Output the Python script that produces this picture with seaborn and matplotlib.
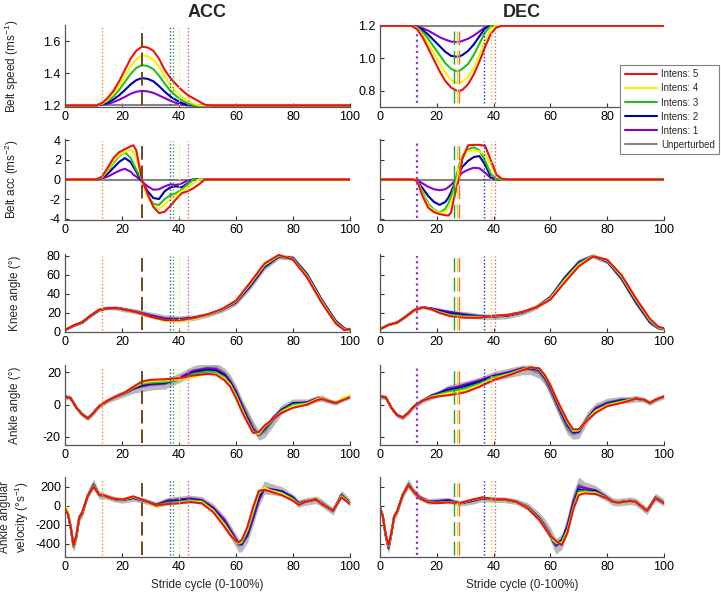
import matplotlib
matplotlib.use("Agg")
import matplotlib.pyplot as plt
from matplotlib.lines import Line2D
import seaborn as sns
import pandas as pd
import numpy as np

# ---------------- data ----------------
INTENS_LABELS = ["Intens: 1", "Intens: 2", "Intens: 3", "Intens: 4", "Intens: 5"]
HUE_ORDER = ["Unperturbed"] + INTENS_LABELS
PALETTE = {"Unperturbed": "#858585", "Intens: 1": "#8a00d0", "Intens: 2": "#0000b0",
           "Intens: 3": "#1fc21f", "Intens: 4": "#f4f400", "Intens: 5": "#ee1111"}

base_x = [0, 100]
speed_base = [1.2, 1.2]
acc_base = [0, 0]

# belt speed, ACC
speed_acc_x = [0, 11, 13, 15, 17, 19, 21, 23, 25, 27, 29, 31, 33, 35, 37, 39, 41, 43, 45, 47, 49, 51, 100]
speed_acc_i5 = [1.2, 1.2, 1.215, 1.247, 1.29, 1.35, 1.42, 1.49, 1.54, 1.565, 1.56, 1.54, 1.49, 1.42, 1.37, 1.33, 1.295, 1.265, 1.245, 1.225, 1.205, 1.2, 1.2]
speed_acc_i4 = [1.2, 1.2, 1.212, 1.237, 1.272, 1.322, 1.382, 1.44, 1.487, 1.51, 1.505, 1.485, 1.44, 1.38, 1.325, 1.285, 1.255, 1.23, 1.212, 1.2, 1.2, 1.2, 1.2]
speed_acc_i3 = [1.2, 1.2, 1.21, 1.228, 1.256, 1.296, 1.345, 1.395, 1.433, 1.45, 1.445, 1.425, 1.385, 1.335, 1.29, 1.258, 1.232, 1.213, 1.202, 1.2, 1.2, 1.2, 1.2]
speed_acc_i2 = [1.2, 1.2, 1.206, 1.218, 1.237, 1.263, 1.295, 1.33, 1.357, 1.37, 1.365, 1.35, 1.32, 1.285, 1.255, 1.233, 1.215, 1.203, 1.2, 1.2, 1.2, 1.2, 1.2]
speed_acc_i1 = [1.2, 1.2, 1.203, 1.21, 1.22, 1.235, 1.253, 1.272, 1.285, 1.29, 1.287, 1.278, 1.262, 1.245, 1.229, 1.215, 1.205, 1.2, 1.2, 1.2, 1.2, 1.2, 1.2]

# belt speed, DEC
speed_dec_x = [0, 11, 13, 15, 17, 19, 21, 23, 25, 27, 28, 29, 31, 33, 35, 37, 39, 41, 43, 100]
speed_dec_i5 = [1.2, 1.2, 1.18, 1.13, 1.06, 0.99, 0.92, 0.86, 0.82, 0.80, 0.80, 0.805, 0.84, 0.9, 0.98, 1.07, 1.15, 1.19, 1.2, 1.2]
speed_dec_i4 = [1.2, 1.2, 1.185, 1.145, 1.09, 1.03, 0.97, 0.91, 0.865, 0.85, 0.85, 0.855, 0.885, 0.94, 1.02, 1.11, 1.18, 1.2, 1.2, 1.2]
speed_dec_i3 = [1.2, 1.2, 1.19, 1.16, 1.12, 1.07, 1.02, 0.97, 0.935, 0.92, 0.925, 0.935, 0.965, 1.02, 1.09, 1.16, 1.2, 1.2, 1.2, 1.2]
speed_dec_i2 = [1.2, 1.2, 1.192, 1.175, 1.145, 1.11, 1.075, 1.04, 1.015, 1.01, 1.012, 1.02, 1.045, 1.085, 1.135, 1.185, 1.2, 1.2, 1.2, 1.2]
speed_dec_i1 = [1.2, 1.2, 1.196, 1.185, 1.17, 1.15, 1.13, 1.115, 1.103, 1.1, 1.102, 1.107, 1.12, 1.14, 1.165, 1.19, 1.2, 1.2, 1.2, 1.2]

# belt acceleration, ACC
bacc_acc_x = [0, 11, 13, 15, 17, 19, 21, 23, 24, 25, 27, 29, 31, 33, 35, 37, 39, 41, 43, 45, 47, 49, 100]
bacc_acc_i5 = [0, 0, 0.3, 1.2, 2.2, 2.8, 3.1, 3.4, 3.5, 3.0, 0, -1.5, -2.8, -3.45, -3.3, -2.7, -2.0, -1.4, -1.2, -0.9, -0.5, 0, 0]
bacc_acc_i4 = [0, 0, 0.25, 1.0, 1.9, 2.5, 2.85, 3.0, 2.8, 2.2, 0, -1.8, -2.7, -3.0, -2.6, -2.0, -1.6, -1.2, -0.8, -0.4, 0, 0, 0]
bacc_acc_i3 = [0, 0, 0.2, 0.9, 1.7, 2.4, 2.8, 2.2, 1.6, 1.0, 0, -1.7, -2.5, -2.6, -2.0, -1.6, -1.4, -1.0, -0.5, 0, 0, 0, 0]
bacc_acc_i2 = [0, 0, 0.15, 0.6, 1.2, 1.8, 2.2, 1.8, 1.3, 0.8, -0.2, -1.2, -1.9, -2.0, -1.2, -0.8, -0.7, -0.8, -0.4, 0, 0, 0, 0]
bacc_acc_i1 = [0, 0, 0.1, 0.3, 0.6, 0.9, 1.1, 0.8, 0.5, 0.3, -0.2, -0.7, -1.05, -1.0, -0.7, -0.5, -0.55, -0.4, -0.1, 0, 0, 0, 0]

# belt acceleration, DEC
bacc_dec_x = [0, 11, 13, 15, 17, 19, 21, 23, 24, 25, 26, 27, 28, 29, 31, 33, 35, 37, 39, 41, 43, 45, 100]
bacc_dec_i5 = [0, 0, -0.1, -1.7, -2.9, -3.35, -3.55, -3.65, -3.7, -3.4, -2.0, -0.8, 0.3, 2.1, 3.5, 3.55, 3.55, 3.45, 2.0, 0.5, 0.05, 0, 0]
bacc_dec_i4 = [0, 0, -0.1, -1.5, -2.7, -3.2, -3.45, -3.3, -2.9, -2.3, -1.5, -0.2, 1.2, 2.3, 2.9, 3.0, 2.9, 2.5, 1.5, 0.4, 0, 0, 0]
bacc_dec_i3 = [0, 0, -0.1, -1.3, -2.5, -3.1, -3.4, -3.0, -2.5, -1.8, -0.8, 0.5, 1.6, 2.4, 3.1, 3.3, 3.0, 1.9, 0.6, 0, 0, 0, 0]
bacc_dec_i2 = [0, 0, -0.1, -0.9, -1.7, -2.3, -2.6, -2.3, -1.9, -1.3, -0.6, 0.1, 0.8, 1.3, 1.9, 2.3, 2.4, 1.5, 0.3, 0, 0, 0, 0]
bacc_dec_i1 = [0, 0, -0.05, -0.4, -0.75, -1.0, -1.1, -1.0, -0.8, -0.55, -0.25, 0.1, 0.45, 0.7, 1.0, 1.2, 1.15, 0.7, 0.15, 0, 0, 0, 0]

# knee angle
knee_x = [0, 3, 6, 9, 12, 15, 18, 21, 25, 30, 35, 40, 45, 50, 55, 60, 65, 70, 75, 80, 85, 90, 95, 98, 100]
knee_band = [1, 1, 1.5, 1.5, 1.5, 1.5, 2, 2.5, 2.5, 3, 3, 3, 3, 2.5, 2.5, 3, 3.5, 3, 2.5, 2.5, 3, 3, 2.5, 1.5, 1]
knee_acc_unp = [2, 6.5, 10, 17, 23, 25, 25, 23.5, 21.5, 18, 15, 14, 15, 18, 23, 31, 48, 68, 79, 78, 60, 33, 10, 3, 3]
knee_acc_i5 = [2, 7, 10.5, 17.5, 23.5, 25.3, 25.3, 23.5, 21, 16, 12.5, 12.3, 14.5, 18.5, 24, 33, 52, 72, 81, 76, 57, 31, 9, 2, 3.5]
knee_acc_i4 = [2, 7, 10.5, 17.5, 23.5, 25.3, 25.3, 23.5, 21, 15.5, 12, 11.5, 13.5, 18, 23.5, 32.5, 51, 71, 80.5, 76.5, 58, 32, 9.5, 2.5, 3]
knee_acc_i3 = [2, 6.8, 10.2, 17.2, 23.3, 25.2, 25.2, 23.3, 20.8, 16, 12.5, 12.5, 14.5, 18.2, 23.5, 32, 50, 70, 80, 77, 59, 33, 10.5, 3, 2.5]
knee_acc_i2 = [2, 6.6, 10, 17, 23, 25, 25.2, 23.5, 21, 16.5, 13, 13, 14.8, 18.2, 23.2, 31.5, 49, 69, 79.5, 77.5, 60, 34, 11, 3.5, 2]
knee_acc_i1 = [2, 6.5, 10, 17, 23, 25, 25.5, 24, 21.5, 17.5, 14, 13.5, 15, 18, 23, 31, 48, 68, 79, 78, 60.5, 34.5, 12, 4, 2]
knee_dec_unp = [3, 7.5, 10, 16, 23, 26, 24.5, 22.5, 20.5, 18.5, 16.5, 16, 17, 20, 26, 37, 57, 74, 80, 74, 56, 31, 10, 4, 3]
knee_dec_i5 = [3, 7.6, 10, 16, 23, 26, 24, 20, 16.5, 15, 15, 17, 18, 21, 26, 34, 52, 69, 79.5, 76, 60, 36, 14, 5.5, 4]
knee_dec_i4 = [3, 7.6, 10, 16, 23, 26, 24, 20.5, 17, 15.5, 15.5, 16.8, 18, 21, 26, 35, 54, 70.5, 80, 75.5, 59, 35, 13, 5, 3.5]
knee_dec_i3 = [3, 7.6, 10, 16, 23, 26, 24.2, 21, 18, 16.5, 16, 16.7, 17.8, 20.8, 26, 35.5, 55, 71.5, 80, 75, 58, 34, 12, 4.5, 3.3]
knee_dec_i2 = [3, 7.5, 10, 16, 23, 26, 24.5, 22, 19.5, 17.5, 16.5, 16.5, 17.5, 20.5, 26, 36, 56, 72.5, 80, 74.5, 57, 33, 11, 4.2, 3.2]
knee_dec_i1 = [3, 7.5, 10, 16, 23, 26, 25, 23, 21, 18.5, 16.8, 16.3, 17.2, 20.3, 26, 36.5, 57, 73, 80, 74, 56.5, 32, 10.5, 4, 3]

# ankle angle
ankle_x = [0, 2, 4, 6, 8, 10, 12, 15, 18, 21, 24, 27, 30, 35, 40, 45, 50, 53, 56, 58,
           60, 62, 64, 66, 68, 70, 73, 76, 80, 85, 88, 90, 93, 95, 97, 100]
ankle_band = [1.5, 1.5, 1.5, 1.5, 1.5, 1.5, 1.5, 1.5, 2, 2, 2.5, 3, 3, 3, 3, 3, 3, 3, 3, 3,
              3, 3, 3, 3, 3, 3.5, 3.5, 3, 2.5, 2, 2, 2, 1.5, 1.5, 1.5, 1.5]
ankle_acc_unp = [5, 4, -2, -6, -8.5, -5, -1, 2.5, 5, 7, 9.5, 11, 12, 12.6, 16.5, 21, 23, 23, 19.5, 15.5,
                 9, 1, -6, -13, -19, -17, -10, -3, 1, 1.5, 3.5, 4, 2, 1, 3, 5]
ankle_acc_i5 = [5, 4, -2, -6, -8.5, -5, -1, 2.5, 5, 7.5, 11, 14.3, 15.3, 15.7, 16.3, 18, 19, 18.5, 15, 11,
                4, -4, -11, -17.5, -17, -13, -9, -5, -2, 0, 2.5, 3.5, 2, 1, 2.5, 4.5]
ankle_acc_i4 = [5, 4, -2, -6, -8.5, -5, -1, 2.5, 5, 7.4, 10.8, 13.5, 14.5, 15, 15.5, 17, 19, 19, 16, 12,
                5, -3, -10.5, -17, -18, -13.5, -9, -4.5, -1, 0.5, 3, 4, 2.2, 1.2, 3.5, 6]
ankle_acc_i3 = [5, 4, -2, -6, -8.5, -5, -1, 2.5, 5, 7.3, 10.5, 12.8, 13.5, 14, 15.3, 19, 20.5, 20, 17, 12.5,
                6, -2, -10, -16.5, -18.5, -14, -9, -4, 0, 0.8, 3, 3.8, 2, 1, 3, 5]
ankle_acc_i2 = [5, 4, -2, -6, -8.5, -5, -1, 2.5, 5, 7.2, 10.2, 12, 13, 13.5, 15.5, 20, 21.5, 21, 18, 13.5,
                7, -1, -9, -16, -18.5, -15, -9, -3.5, 1, 1, 3.2, 4, 2, 1, 3, 5]
ankle_acc_i1 = [5, 4, -2, -6, -8.5, -5, -1, 2.5, 5, 7, 9.8, 11.5, 12.5, 13, 16.5, 21, 22.5, 22, 19, 14,
                8, 0, -8, -15, -19, -15, -8, -3, 0.5, 1.5, 3.5, 4, 2, 1, 3, 5]
ankle_dec_unp = [5, 4.5, -2, -6.5, -8, -5, -1, 2.5, 5, 7, 9.5, 10.5, 11.5, 14, 17.5, 19.5, 21.5, 21.5, 19.4, 15.3,
                 8, 0, -8, -15.5, -18.5, -17.5, -8, -2, 1.5, 3, 3, 3.7, 3, 1, 3, 5]
ankle_dec_i5 = [5, 4.5, -2, -6.5, -8, -5, -1, 2.5, 4.3, 5.2, 5.8, 6.6, 7.6, 11, 15.3, 18, 21.2, 23, 22.5, 18.4,
                12, 4, -3, -10, -15.3, -15.3, -9.5, -5, -1, 1, 2.5, 3.7, 3, 1, 3, 5]
ankle_dec_i4 = [5, 4.5, -2, -6.5, -8, -5, -1, 2.5, 4.6, 5.8, 7, 7.8, 8.8, 12, 16, 18.5, 21.5, 23, 22.3, 18,
                12, 4, -3.5, -10.5, -16, -15.8, -9.2, -4, -0.5, 1.5, 2.8, 3.7, 3, 1, 3, 5]
ankle_dec_i3 = [5, 4.5, -2, -6.5, -8, -5, -1, 2.5, 5, 6.5, 8, 9, 10, 13, 17, 19, 21.8, 23, 22, 17.5,
                11.5, 3.5, -4, -11.5, -16.5, -16, -9, -3.5, 0, 2, 3, 3.7, 3, 1, 3, 5]
ankle_dec_i2 = [5, 4.5, -2, -6.5, -8, -5, -1, 2.5, 5.2, 7, 9, 10, 11.5, 14, 17.5, 19.5, 22, 22.5, 21.5, 17,
                11, 3, -5, -12.5, -17, -16.5, -9, -3, 0.5, 2.5, 3, 3.7, 3, 1, 3, 5]
ankle_dec_i1 = [5, 4.5, -2, -6.5, -8, -5, -1, 2.5, 5.5, 7.5, 10, 11, 12.5, 15, 18, 20, 22.5, 22.5, 21, 16.5,
                10, 2, -6, -13, -17.5, -17, -8.5, -2, 1, 3, 3, 3.7, 3, 1, 3, 5]

# ankle angular velocity
vel_x = [0, 1, 2, 3, 4, 5, 6, 8, 10, 12, 14, 17, 20, 24, 28, 32, 36, 40, 44, 48,
         52, 56, 58, 60, 61, 62, 64, 66, 68, 70, 72, 76, 80, 82, 84, 88, 90, 94, 97, 100]
vel_acc_band = [30, 30, 40, 50, 40, 40, 40, 40, 50, 40, 30, 30, 30, 30, 30, 30, 40, 40, 40, 40,
                50, 60, 70, 70, 70, 70, 80, 80, 80, 70, 60, 50, 40, 40, 40, 40, 40, 40, 40, 40]
vel_acc_unp = [-10, -80, -230, -440, -330, -130, -90, 110, 230, 110, 100, 70, 55, 75, 50, 10, 45, 60, 70, 55,
               -30, -170, -270, -370, -420, -415, -310, -130, 70, 190, 175, 150, 80, 20, 40, 60, 30, -60, 120, 30]
vel_acc_i5 = [-35, -86, -224, -420, -310, -120, -70, 103, 196, 114, 103, 72, 62, 97, 52, 0, 17, 24, 38, 24,
              -69, -224, -310, -372, -386, -362, -224, -17, 155, 165, 148, 110, 52, 7, 34, 69, 17, -52, 86, 17]
vel_acc_i4 = [20, -60, -220, -430, -315, -120, -72, 104, 200, 114, 103, 72, 61, 92, 52, -15, 20, 30, 45, 35,
              -55, -205, -295, -375, -395, -375, -245, -50, 140, 190, 160, 125, 60, 10, 36, 75, 20, -52, 95, 20]
vel_acc_i3 = [-20, -84, -225, -425, -315, -122, -75, 104, 205, 113, 103, 71, 60, 88, 51, 3, 30, 40, 55, 45,
              -45, -190, -285, -375, -400, -390, -270, -80, 120, 175, 160, 135, 70, 15, 38, 68, 22, -53, 100, 22]
vel_acc_i2 = [-25, -82, -225, -430, -320, -125, -80, 105, 210, 112, 102, 70, 58, 82, 50, 5, 40, 50, 65, 50,
              -35, -175, -275, -370, -405, -400, -290, -100, 90, 175, 165, 150, 80, 20, 40, 65, 25, -55, 105, 25]
vel_acc_i1 = [-20, -80, -225, -430, -320, -125, -85, 108, 215, 112, 102, 70, 58, 80, 48, 8, 55, 65, 75, 60,
              -20, -150, -250, -350, -400, -410, -320, -140, 50, 180, 175, 150, 90, 25, 45, 65, 30, -55, 110, 25]
vel_dec_band = [30, 30, 40, 50, 40, 40, 40, 40, 50, 40, 30, 30, 30, 30, 30, 30, 30, 30, 30, 30,
                40, 50, 60, 70, 80, 80, 80, 90, 90, 80, 60, 50, 40, 40, 40, 40, 40, 40, 40, 40]
vel_dec_unp = [-20, -110, -320, -460, -300, -110, -70, 115, 230, 140, 85, 45, 50, 55, 25, 40, 70, 65, 60, 40,
               -10, -120, -200, -300, -370, -430, -380, -200, 50, 220, 190, 160, 80, 40, 35, 50, 40, -55, 90, 30]
vel_dec_i5 = [-28, -114, -303, -417, -286, -114, -62, 110, 214, 145, 76, 34, 24, 34, 24, 59, 86, 66, 66, 41,
              -28, -148, -234, -320, -345, -372, -415, -286, -45, 110, 128, 121, 76, 41, 31, 48, 41, -55, 76, 24]
vel_dec_i4 = [-26, -113, -305, -425, -288, -114, -62, 110, 216, 145, 78, 35, 27, 36, 24, 57, 84, 66, 65, 40,
              -24, -145, -230, -318, -360, -385, -400, -270, -35, 130, 140, 130, 77, 41, 31, 48, 41, -55, 78, 25]
vel_dec_i3 = [-24, -112, -305, -430, -290, -113, -63, 111, 218, 144, 80, 36, 30, 40, 24, 55, 82, 66, 64, 40,
              -20, -140, -225, -315, -370, -400, -380, -250, -20, 150, 150, 140, 78, 40, 32, 49, 40, -55, 80, 26]
vel_dec_i2 = [-22, -112, -310, -440, -292, -112, -64, 112, 220, 142, 82, 38, 40, 50, 25, 50, 80, 66, 64, 40,
              -18, -135, -220, -315, -380, -410, -360, -230, 0, 170, 160, 150, 80, 40, 33, 50, 40, -55, 82, 27]
vel_dec_i1 = [-20, -110, -310, -440, -295, -112, -65, 112, 222, 142, 90, 40, 45, 60, 22, 45, 75, 68, 62, 40,
              -15, -130, -215, -310, -380, -420, -370, -210, 30, 200, 185, 160, 85, 40, 33, 50, 40, -55, 85, 28]

# event markers (stride %, colour)
acc_dotted = [(13, "#f08a30"), (37, "#4040c8"), (38, "#40b040"), (40, "#e8e870"), (43, "#e06060")]
acc_dashed = [(27, "#6b4a1f")]
dec_dotted = [(13, "#8a3cc8"), (36.5, "#2a2ab0"), (39, "#e0d050"), (40.5, "#e06060")]
dec_dashed = [(26, "#20a050"), (27, "#e8e030"), (27.7, "#f07030")]

ylabels = ["Belt speed (ms$^{-1}$)", "Belt acc (ms$^{-2}$)", "Knee angle (°)",
           "Ankle angle (°)", "Ankle angular\nvelocity (°s$^{-1}$)"]

# ---------------- figure ----------------
sns.set_style("white")
plt.rcParams["font.family"] = ["Liberation Sans", "DejaVu Sans"]
plt.rcParams["mathtext.fontset"] = "custom"
plt.rcParams["mathtext.rm"] = "Liberation Sans"

W, H = 721, 597
fig = plt.figure(figsize=(W / 100, H / 100), dpi=100)

rows_px = [(25, 107), (139, 220), (254, 332), (365, 445), (477, 557)]
cols_px = [(65, 350), (380, 664)]


def long_frame(x, unp_x, unp, series):
    parts = [pd.DataFrame({"x": unp_x, "y": unp, "cond": "Unperturbed"})]
    for lab, vals in zip(INTENS_LABELS, series):
        parts.append(pd.DataFrame({"x": x, "y": vals, "cond": lab}))
    return pd.concat(parts, ignore_index=True)


panels = [
    [  # row 0
        dict(x=speed_acc_x, ux=base_x, unp=speed_base, band=None,
             s=[speed_acc_i1, speed_acc_i2, speed_acc_i3, speed_acc_i4, speed_acc_i5],
             ylim=(1.19, 1.70), yticks=[1.2, 1.4, 1.6], fmt="{:.1f}"),
        dict(x=speed_dec_x, ux=base_x, unp=speed_base, band=None,
             s=[speed_dec_i1, speed_dec_i2, speed_dec_i3, speed_dec_i4, speed_dec_i5],
             ylim=(0.70, 1.205), yticks=[0.8, 1.0, 1.2], fmt="{:.1f}"),
    ],
    [
        dict(x=bacc_acc_x, ux=base_x, unp=acc_base, band=None,
             s=[bacc_acc_i1, bacc_acc_i2, bacc_acc_i3, bacc_acc_i4, bacc_acc_i5],
             ylim=(-4.15, 4.15), yticks=[-4, -2, 0, 2, 4], fmt="{:g}"),
        dict(x=bacc_dec_x, ux=base_x, unp=acc_base, band=None,
             s=[bacc_dec_i1, bacc_dec_i2, bacc_dec_i3, bacc_dec_i4, bacc_dec_i5],
             ylim=(-4.15, 4.15), yticks=[-4, -2, 0, 2, 4], fmt="{:g}"),
    ],
    [
        dict(x=knee_x, ux=knee_x, unp=knee_acc_unp, band=knee_band,
             s=[knee_acc_i1, knee_acc_i2, knee_acc_i3, knee_acc_i4, knee_acc_i5],
             ylim=(0, 82), yticks=[0, 20, 40, 60, 80], fmt="{:g}"),
        dict(x=knee_x, ux=knee_x, unp=knee_dec_unp, band=knee_band,
             s=[knee_dec_i1, knee_dec_i2, knee_dec_i3, knee_dec_i4, knee_dec_i5],
             ylim=(0, 82), yticks=[0, 20, 40, 60, 80], fmt="{:g}"),
    ],
    [
        dict(x=ankle_x, ux=ankle_x, unp=ankle_acc_unp, band=ankle_band,
             s=[ankle_acc_i1, ankle_acc_i2, ankle_acc_i3, ankle_acc_i4, ankle_acc_i5],
             ylim=(-25, 24.5), yticks=[-20, 0, 20], fmt="{:g}"),
        dict(x=ankle_x, ux=ankle_x, unp=ankle_dec_unp, band=ankle_band,
             s=[ankle_dec_i1, ankle_dec_i2, ankle_dec_i3, ankle_dec_i4, ankle_dec_i5],
             ylim=(-25, 24.5), yticks=[-20, 0, 20], fmt="{:g}"),
    ],
    [
        dict(x=vel_x, ux=vel_x, unp=vel_acc_unp, band=vel_acc_band,
             s=[vel_acc_i1, vel_acc_i2, vel_acc_i3, vel_acc_i4, vel_acc_i5],
             ylim=(-540, 300), yticks=[-400, -200, 0, 200], fmt="{:g}"),
        dict(x=vel_x, ux=vel_x, unp=vel_dec_unp, band=vel_dec_band,
             s=[vel_dec_i1, vel_dec_i2, vel_dec_i3, vel_dec_i4, vel_dec_i5],
             ylim=(-540, 300), yticks=[-400, -200, 0, 200], fmt="{:g}"),
    ],
]

for r, (top, bot) in enumerate(rows_px):
    for c, (lft, rgt) in enumerate(cols_px):
        p = panels[r][c]
        ax = fig.add_axes([lft / W, 1 - bot / H, (rgt - lft) / W, (bot - top) / H])

        if p["band"] is not None:
            lo = np.array(p["unp"]) - np.array(p["band"])
            hi = np.array(p["unp"]) + np.array(p["band"])
            ax.fill_between(p["ux"], lo, hi, color="#b9b9b9", lw=0, zorder=1)

        df = long_frame(p["x"], p["ux"], p["unp"], p["s"])
        sns.lineplot(data=df, x="x", y="y", hue="cond", hue_order=HUE_ORDER,
                     palette=PALETTE, estimator=None, sort=False, linewidth=1.5,
                     legend=False, ax=ax)

        dotted = acc_dotted if c == 0 else dec_dotted
        dashed = acc_dashed if c == 0 else dec_dashed
        ylo = 0.03 if r > 0 or c == 0 else 0.05
        yhi = 0.97 if r > 0 or c == 0 else 0.93
        for xv, col in dotted:
            lw = 1.6 if (c == 1 and xv == 13) else 1.0
            ax.axvline(xv, ymin=ylo, ymax=yhi, color=col, lw=lw, ls=(0, (1, 1.5)), zorder=4)
        for xv, col in dashed:
            ax.axvline(xv, ymin=ylo, ymax=yhi, color=col, lw=1.4 if c == 0 else 1.0,
                       ls=(0, (7, 3)) if c == 0 else (0, (10, 4)), zorder=4)

        ax.set_xlim(0, 100)
        ax.set_ylim(*p["ylim"])
        ax.set_xticks([0, 20, 40, 60, 80, 100])
        ax.set_yticks(p["yticks"])
        ax.set_yticklabels([p["fmt"].format(v) for v in p["yticks"]])
        ax.tick_params(direction="in", length=3, width=0.8, labelsize=9, pad=3,
                       bottom=True, left=True, colors="#333333", labelcolor="black")
        if c == 1 and r > 0:
            ax.tick_params(labelleft=False)
        sns.despine(ax=ax)
        for sp in ("left", "bottom"):
            ax.spines[sp].set_color("#555555")
            ax.spines[sp].set_linewidth(0.9)

        ax.set_xlabel("Stride cycle (0-100%)" if r == 4 else "", fontsize=8.5, labelpad=4)
        if c == 0:
            ax.set_ylabel(ylabels[r], fontsize=8.5, linespacing=1.1)
            ax.yaxis.set_label_coords(-0.12 if r == 4 else -0.155, 0.5)
        else:
            ax.set_ylabel("")

        if r == 0:
            ax.set_title("ACC" if c == 0 else "DEC", fontsize=13, fontweight="bold", pad=6)

handles = [Line2D([0], [0], color=PALETTE[k], lw=1.5) for k in reversed(HUE_ORDER[1:])]
handles.append(Line2D([0], [0], color=PALETTE["Unperturbed"], lw=1.5))
labels = list(reversed(INTENS_LABELS)) + ["Unperturbed"]
leg = fig.legend(handles, labels, loc="upper right", bbox_to_anchor=(719 / W, 1 - 65 / H),
                 fontsize=7, frameon=True, fancybox=False, framealpha=1, edgecolor="#808080",
                 handlelength=3.3, handletextpad=0.4, labelspacing=0.42, borderpad=0.45,
                 borderaxespad=0)
leg.get_frame().set_linewidth(0.8)

fig.savefig("out.png", dpi=100)
